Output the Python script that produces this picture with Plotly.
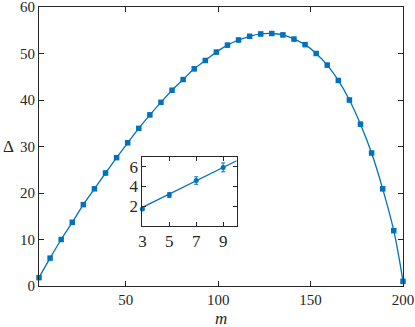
import plotly.graph_objects as go

# main series
m = [3, 9, 15, 21, 27, 33, 39, 45, 51, 57, 63, 69, 75, 81, 87, 93, 99,
     105, 111, 117, 123, 129, 135, 141, 147, 153, 159, 165, 171, 177,
     183, 189, 195, 200]
delta = [1.8, 6.0, 10.0, 13.7, 17.5, 20.9, 24.3, 27.6, 30.8, 33.9, 36.8,
         39.5, 42.1, 44.4, 46.7, 48.5, 50.3, 51.8, 52.9, 53.7, 54.2, 54.3,
         54.0, 53.1, 51.9, 50.0, 47.5, 44.2, 40.0, 34.8, 28.6, 20.9, 11.9, 1.0]
delta_err = [0.2, 0.25, 0.3, 0.3, 0.35, 0.35, 0.4, 0.4, 0.4, 0.4, 0.4,
             0.4, 0.4, 0.4, 0.4, 0.4, 0.4, 0.4, 0.4, 0.4, 0.4, 0.4,
             0.4, 0.4, 0.4, 0.4, 0.4, 0.4, 0.4, 0.4, 0.4, 0.4, 0.4, 0.3]

# inset series
m_small = [3, 5, 7, 9]
delta_small = [1.72, 3.13, 4.6, 5.93]
delta_small_err = [0.15, 0.25, 0.38, 0.45]
fit_m = [3, 10]
fit_delta = [1.89, 6.6]

blue = "#0072BD"
ink = "#262626"
serif = "Liberation Serif, Times New Roman, serif"

fig = go.Figure()

fig.add_trace(go.Scatter(x=m, y=delta, mode="lines", line=dict(color=blue, width=1.3, shape="spline"),
                         showlegend=False, hoverinfo="skip"))
fig.add_trace(go.Scatter(x=m, y=delta, mode="markers",
                         marker=dict(symbol="square", size=5.5, color=blue),
                         error_y=dict(type="data", array=delta_err, color=blue, thickness=1, width=1.5),
                         showlegend=False, cliponaxis=False))

fig.add_trace(go.Scatter(x=fit_m, y=fit_delta, mode="lines", line=dict(color=blue, width=1.3),
                         xaxis="x2", yaxis="y2", showlegend=False))
fig.add_trace(go.Scatter(x=m_small, y=delta_small, mode="markers",
                         marker=dict(symbol="circle", size=5, color=blue),
                         error_y=dict(type="data", array=delta_small_err, color=blue, thickness=1, width=2),
                         xaxis="x2", yaxis="y2", showlegend=False, cliponaxis=False))

ax_common = dict(showline=True, linecolor=ink, linewidth=1, mirror="allticks", ticks="inside",
                 tickcolor=ink, showgrid=False, zeroline=False, automargin=False,
                 ticklabeloverflow="allow",
                 tickfont=dict(family=serif, size=15, color=ink))
inset_font = dict(family=serif, size=17, color=ink)

fig.update_layout(
    width=415, height=327,
    margin=dict(l=39, r=12, t=7, b=41),
    plot_bgcolor="white", paper_bgcolor="white",
    font=dict(family=serif, color=ink),
    xaxis=dict(range=[3, 200], tickvals=[50, 100, 150, 200], ticklen=5, **ax_common),
    yaxis=dict(range=[0, 60], tickvals=[0, 10, 20, 30, 40, 50, 60], ticklen=5, **ax_common),
    xaxis2=dict(domain=[0.284, 0.543], anchor="y2", range=[3, 10], tickvals=[3, 5, 7, 9], ticklen=4,
                **{**ax_common, "tickfont": inset_font}),
    yaxis2=dict(domain=[0.215, 0.463], anchor="x2", range=[0, 7], tickvals=[2, 4, 6], ticklen=4,
                **{**ax_common, "tickfont": inset_font}),
    annotations=[
        dict(text="Δ", x=-0.085, y=0.5, xref="paper", yref="paper", showarrow=False,
             xanchor="center", yanchor="middle", font=dict(family=serif, size=17, color=ink)),
        dict(text="<i>m</i>", x=0.5, y=-0.115, xref="paper", yref="paper", showarrow=False,
             xanchor="center", yanchor="middle", font=dict(family=serif, size=17, color=ink)),
    ],
)

# the page's default 8px body margin would shift the figure
fig.write_html("out.html", config={"displayModeBar": False},
               post_script="document.body.style.margin='0';")
